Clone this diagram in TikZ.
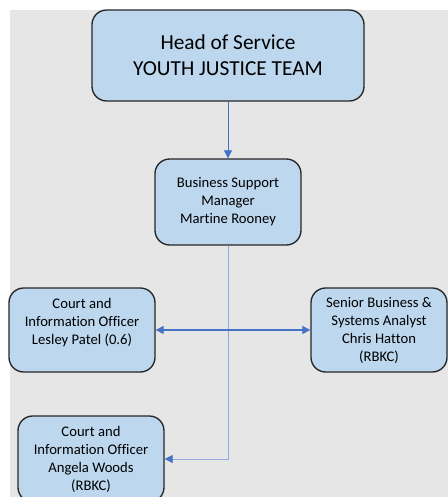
\documentclass[tikz,border=0pt]{standalone}
\usepackage{fontspec}
\setmainfont{Carlito}[Ligatures=NoCommon]
\usetikzlibrary{arrows.meta}
\definecolor{bg}{HTML}{E6E6E6}
\definecolor{boxfill}{HTML}{BDD7EE}
\definecolor{lineblue}{HTML}{4472C4}
\definecolor{lightline}{HTML}{8FAADC}
\tikzset{
  orgbox/.style={draw=black!85, line width=1pt, fill=boxfill, rounded corners=11pt,
    align=center, inner sep=0pt, font=\fontsize{11}{13.5}\selectfont},
  tip/.style={Triangle[length=6pt,width=6pt,fill=lineblue,color=lineblue]},
  conn/.style={draw=lineblue, line width=0.6pt, -{Triangle[length=6pt,width=6pt,fill=lineblue,color=lineblue]}},
}
\begin{document}
\begin{tikzpicture}[x=0.75pt,y=-0.75pt]
\useasboundingbox (0,0) rectangle (448,497);
\clip (0,0) rectangle (448,497);
\fill[bg] (10,10) rectangle (448,497);
\node[orgbox, minimum width=272*0.75pt, minimum height=91*0.75pt,
  font=\fontsize{16}{19.5}\selectfont] (head) at (228,55.5)
  {Head of Service\\YOUTH JUSTICE TEAM};
\node[orgbox, minimum width=146*0.75pt, minimum height=86*0.75pt] (bsm) at (228,202)
  {Business Support\\Manager\\Martine Rooney};
\node[orgbox, minimum width=146*0.75pt, minimum height=84*0.75pt] (lesley) at (82,330)
  {Court and\\Information Officer\\Lesley Patel (0.6)\\\mbox{}};
\node[orgbox, minimum width=136*0.75pt, minimum height=84*0.75pt] (senior) at (379,330)
  {Senior Business \&\\Systems Analyst\\Chris Hatton\\(RBKC)};
\node[orgbox, minimum width=146*0.75pt, minimum height=86*0.75pt] (angela) at (91,459)
  {Court and\\Information Officer\\Angela Woods\\(RBKC)};
\draw[conn] (head.south) -- (bsm.north);
\draw[conn, draw=lightline] (bsm.south) |- (angela.east);
\draw[conn, line width=0.8pt, {Triangle[length=6pt,width=6pt,fill=lineblue,color=lineblue]}-{Triangle[length=6pt,width=6pt,fill=lineblue,color=lineblue]}] (lesley.east) -- (senior.west);
\end{tikzpicture}
\end{document}
